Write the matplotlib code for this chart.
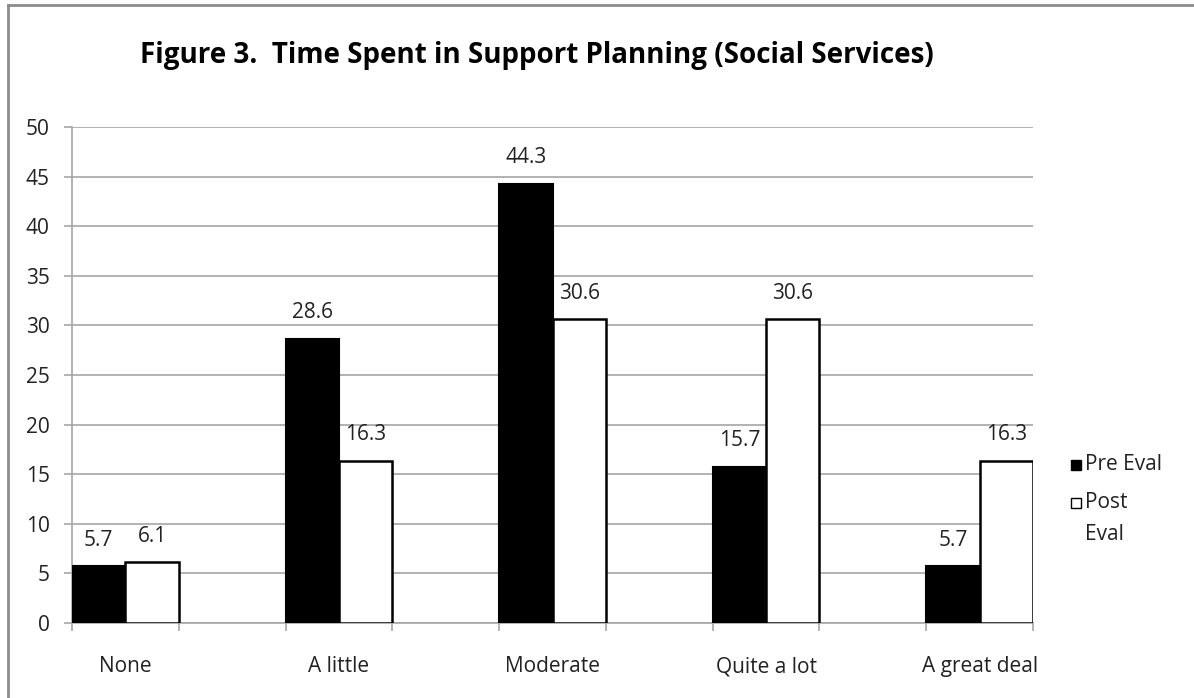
import numpy as np
import matplotlib.pyplot as plt
from matplotlib.patches import Rectangle
from matplotlib.lines import Line2D

categories = ['None', 'A little', 'Moderate', 'Quite a lot', 'A great deal']
pre_eval = [5.7, 28.6, 44.3, 15.7, 5.7]
post_eval = [6.1, 16.3, 30.6, 30.6, 16.3]
y_ticks = [0, 5, 10, 15, 20, 25, 30, 35, 40, 45, 50]

plt.rcParams['font.family'] = ['Open Sans', 'DejaVu Sans']
FS = 15

W, H = 1194, 698
fig = plt.figure(figsize=(W / 100, H / 100), dpi=100)
ax = fig.add_axes([72 / W, 1 - 623 / H, (1033 - 72) / W, (623 - 127) / H])

# each category takes two slots (one empty slot between groups)
x = np.arange(len(categories)) * 2
w = 0.5
ax.bar(x - w / 2, pre_eval, width=w, color='black', edgecolor='black', linewidth=1.5, zorder=3)
ax.bar(x + w / 2, post_eval, width=w, color='white', edgecolor='black', linewidth=1.8, zorder=3)

for xi, v in zip(x, pre_eval):
    ax.text(xi - w / 2, v + 1.6, f'{v:.1f}', ha='center', va='bottom', fontsize=FS, color='#222222')
for xi, v in zip(x, post_eval):
    ax.text(xi + w / 2, v + 1.6, f'{v:.1f}', ha='center', va='bottom', fontsize=FS, color='#222222')

ax.set_xlim(-0.5, 8.5)
ax.set_ylim(0, 50)
ax.set_yticks(y_ticks)
ax.yaxis.grid(True, color='#a6a6a6', linewidth=1.2, zorder=0)
ax.set_axisbelow(True)

ax.set_xticks(x)
ax.set_xticklabels(categories, fontsize=FS, color='#222222')
ax.set_xticks(np.arange(-0.5, 9, 1), minor=True)
ax.tick_params(axis='x', which='major', length=0, pad=24)
ax.tick_params(axis='x', which='minor', length=6, color='#a6a6a6', width=1.2)
ax.tick_params(axis='y', length=6, color='#a6a6a6', width=1.2, labelsize=FS, labelcolor='#222222', pad=10)

for s in ['top', 'right']:
    ax.spines[s].set_visible(False)
for s in ['left', 'bottom']:
    ax.spines[s].set_color('#a6a6a6')
    ax.spines[s].set_linewidth(1.2)

fig.text(537 / W, 1 - 55 / H, 'Figure 3.  Time Spent in Support Planning (Social Services)',
         ha='center', va='center', fontsize=20, fontweight='bold', color='black')

# legend
fig.patches.append(Rectangle((1071 / W, 1 - 470 / H), 10 / W, 10 / H, facecolor='black',
                             edgecolor='black', linewidth=1, transform=fig.transFigure))
fig.text(1085 / W, 1 - 465 / H, 'Pre Eval', ha='left', va='center', fontsize=FS, color='#222222')
fig.patches.append(Rectangle((1071 / W, 1 - 508 / H), 10 / W, 10 / H, facecolor='white',
                             edgecolor='black', linewidth=1, transform=fig.transFigure))
fig.text(1085 / W, 1 - 503 / H, 'Post', ha='left', va='center', fontsize=FS, color='#222222')
fig.text(1085 / W, 1 - 535 / H, 'Eval', ha='left', va='center', fontsize=FS, color='#222222')

# chart border (only left and top visible)
fig.add_artist(Line2D([8 / W, 8 / W], [0, 1 - 5 / H], color='#8c8c8c', linewidth=2, transform=fig.transFigure))
fig.add_artist(Line2D([8 / W, 1], [1 - 5 / H, 1 - 5 / H], color='#8c8c8c', linewidth=2, transform=fig.transFigure))

fig.savefig('out.png', dpi=100)
